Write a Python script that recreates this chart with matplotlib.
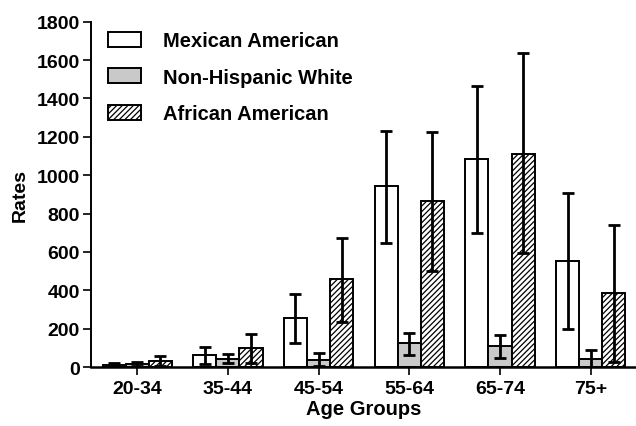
import matplotlib
matplotlib.use("Agg")
import matplotlib.pyplot as plt
import numpy as np

plt.rcParams['font.family'] = ['Liberation Sans', 'DejaVu Sans']
plt.rcParams['font.weight'] = 'bold'
plt.rcParams['hatch.linewidth'] = 0.9

age_groups = ["20-34", "35-44", "45-54", "55-64", "65-74", "75+"]

mexican_american = [12, 61, 254, 944, 1084, 551]
mexican_upper = [20, 106, 381, 1232, 1467, 906]
mexican_lower = [5, 15, 125, 648, 699, 198]

nh_white = [15, 43, 38, 125, 111, 42]
nh_white_upper = [28, 69, 73, 180, 168, 90]
nh_white_lower = [3, 20, 5, 63, 48, 2]

african_american = [30, 97, 459, 865, 1112, 384]
african_upper = [58, 172, 673, 1227, 1636, 740]
african_lower = [5, 20, 236, 502, 594, 25]

fig = plt.figure(figsize=(6.36, 4.27), dpi=100)
ax = fig.add_axes([0.143, 0.138, 0.857, 0.809])

x = np.arange(len(age_groups))
w = 0.255

series = [
    (mexican_american, mexican_upper, mexican_lower, -w, dict(facecolor='white', hatch=None), "Mexican American"),
    (nh_white, nh_white_upper, nh_white_lower, 0, dict(facecolor='#c9c9c9', hatch=None), "Non-Hispanic White"),
    (african_american, african_upper, african_lower, w, dict(facecolor='white', hatch='//////'), "African American"),
]

handles = []
for vals, up, lo, off, style, label in series:
    vals = np.array(vals, dtype=float)
    up = np.array(up, dtype=float)
    lo = np.array(lo, dtype=float)
    b = ax.bar(x + off, vals, width=w, edgecolor='black', linewidth=1.4,
               label=label, **style)
    yerr = np.vstack([vals - lo, up - vals])
    ax.errorbar(x + off, vals, yerr=yerr, fmt='none', ecolor='black',
                elinewidth=2.0, capsize=4, capthick=2.0)
    handles.append(b)

ax.set_xlim(-0.51, 5.5)
ax.set_ylim(0, 1800)
ax.set_yticks(range(0, 1801, 200))
ax.set_xticks(x)
ax.set_xticklabels(age_groups)
ax.tick_params(axis='both', labelsize=14, width=1.2, length=6, direction='out')
ax.tick_params(axis='y', pad=2)
for lab in ax.get_xticklabels() + ax.get_yticklabels():
    lab.set_fontweight('bold')

ax.spines['top'].set_visible(False)
ax.spines['right'].set_visible(False)
ax.spines['left'].set_linewidth(1.4)
ax.spines['bottom'].set_linewidth(1.8)

ax.set_xlabel("Age Groups", fontsize=14.5, fontweight='bold', labelpad=1)
ax.set_ylabel("Rates", fontsize=14, fontweight='bold', labelpad=6)

leg = ax.legend(handles=handles, loc='upper left', bbox_to_anchor=(0.0, 1.022),
                frameon=False, fontsize=14.5, handlelength=1.65, handleheight=0.75,
                labelspacing=0.87, handletextpad=1.1, borderaxespad=0.45)
for t in leg.get_texts():
    t.set_fontweight('bold')

fig.savefig("out.png", dpi=100)
